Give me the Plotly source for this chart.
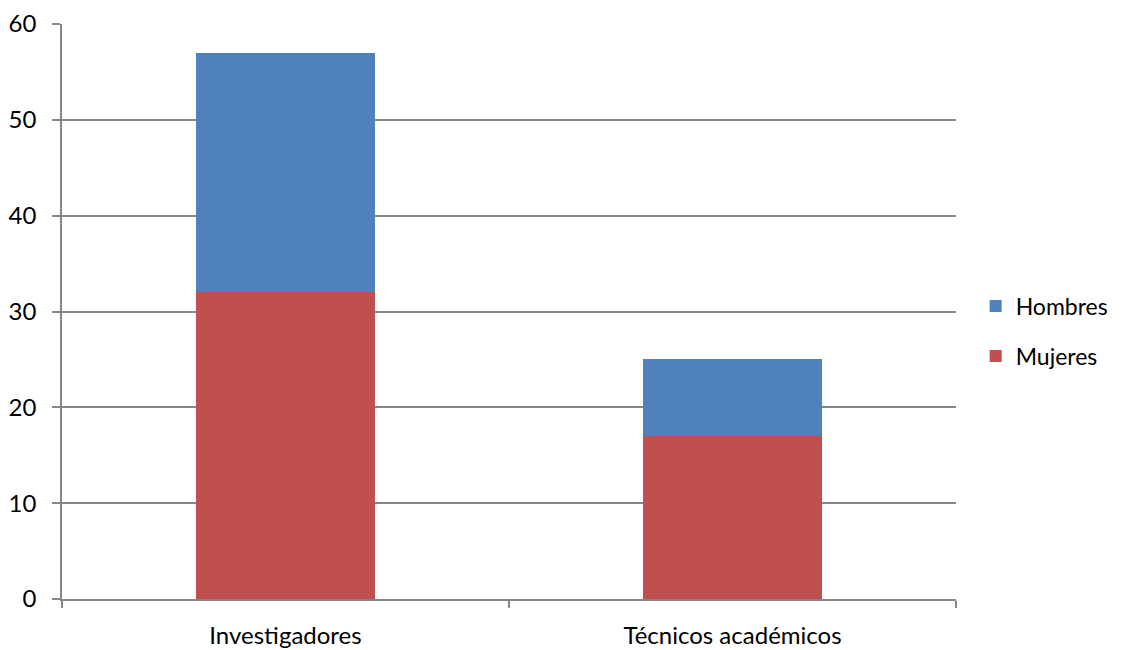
import plotly.graph_objects as go

categories = ["Investigadores", "Técnicos académicos"]
mujeres = [32, 17]
hombres = [25, 8]

y_ticks = [0, 10, 20, 30, 40, 50, 60]

FONT = "Lato, Carlito, 'Open Sans', sans-serif"
GRID = "#868686"

fig = go.Figure()
fig.add_trace(go.Bar(x=categories, y=mujeres, name="Mujeres", legendgroup="m",
                     legendrank=2,
                     marker=dict(color="#C0504D", line=dict(width=0))))
fig.add_trace(go.Bar(x=categories, y=hombres, name="Hombres", legendgroup="h",
                     legendrank=1,
                     marker=dict(color="#4F81BD", line=dict(width=0))))

fig.update_layout(
    barmode="stack",
    bargap=0.6,
    width=1122, height=650,
    margin=dict(l=54, r=174, t=16, b=59, autoexpand=False),
    paper_bgcolor="white", plot_bgcolor="white",
    font=dict(family=FONT, size=24, color="#000000"),
    legend=dict(x=1.022, y=0.466, xanchor="left", yanchor="middle",
                traceorder="grouped", font=dict(size=23),
                itemwidth=30, tracegroupgap=17, bgcolor="rgba(0,0,0,0)"),
    xaxis=dict(type="category", tickson="boundaries", ticks="outside",
               ticklen=7, tickcolor=GRID, tickwidth=1.5, automargin=False,
               showgrid=False, showline=True, linecolor=GRID, linewidth=1.5,
               range=[-0.5, 1.5], tickfont=dict(size=24), ticklabelstandoff=14),
    yaxis=dict(range=[0, 60], tickvals=y_ticks, ticks="outside", ticklen=8,
               tickcolor=GRID, tickwidth=1.5, showgrid=True, gridcolor=GRID,
               gridwidth=1.5, showline=True, linecolor=GRID, linewidth=1.5,
               automargin=False,
               zeroline=False, tickfont=dict(size=24), ticklabelstandoff=11),
)

fig.write_html("out.html")
